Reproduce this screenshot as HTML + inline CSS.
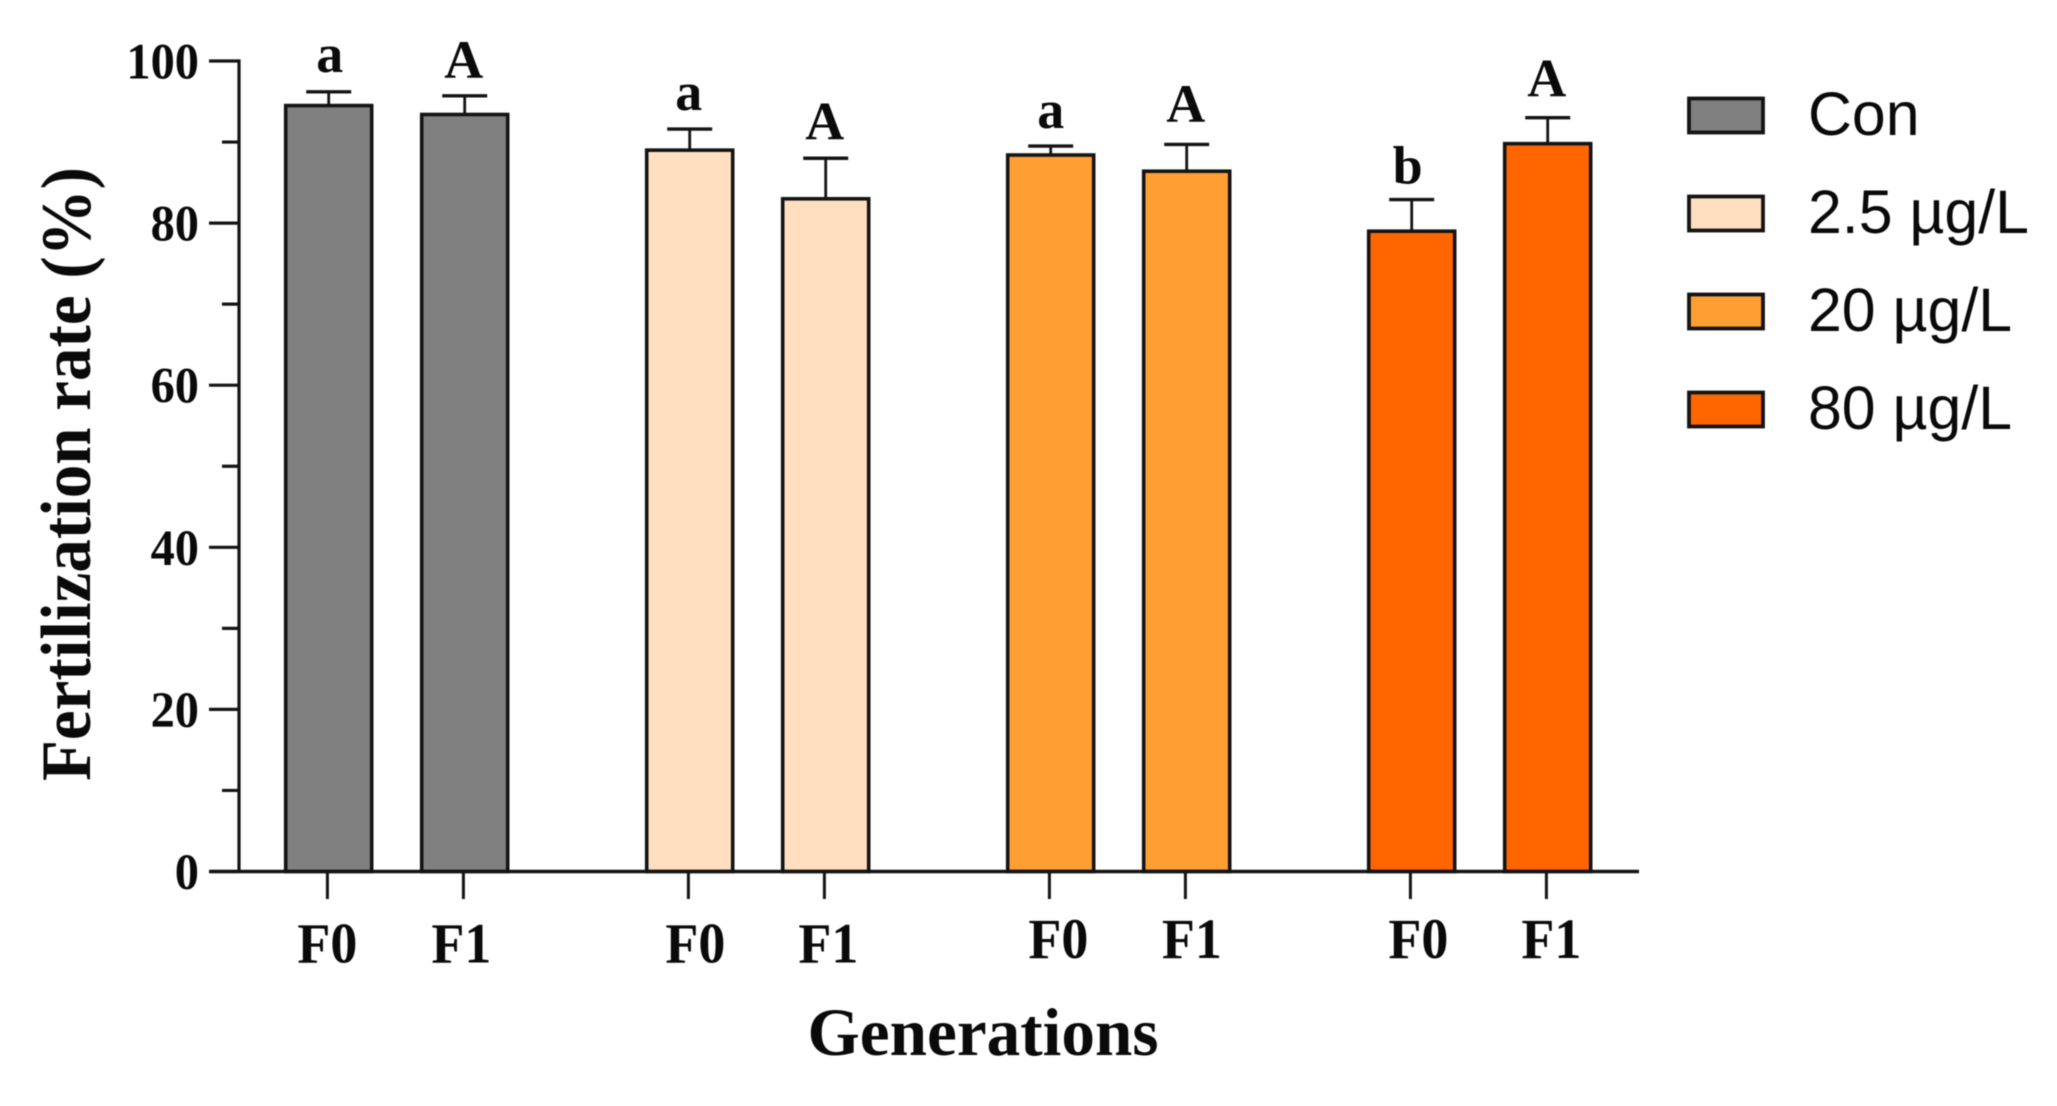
<!DOCTYPE html>
<html lang="en">
<head>
<meta charset="utf-8">
<title>Fertilization rate by generation</title>
<style>
  html, body { margin: 0; padding: 0; background: #fff; }
  svg { display: block; filter: blur(0.6px); }
  text { fill: #0a0a0a; }
  .serif { font-family: "Liberation Serif", serif; font-weight: 700; }
  .sans { font-family: "Liberation Sans", sans-serif; font-weight: 400; }
</style>
</head>
<body>
<svg id="chart" xmlns="http://www.w3.org/2000/svg" width="2057" height="1106" viewBox="0 0 2057 1106">
  <rect x="0" y="0" width="2057" height="1106" fill="#ffffff"/>
  <g id="bars"></g>
  <g id="y-axis"></g>
  <g id="x-axis"></g>
  <g id="letters"></g>
  <g id="legend"></g>
  <text class="serif" transform="translate(90 474) rotate(-90)" text-anchor="middle" font-size="71" textLength="614" lengthAdjust="spacingAndGlyphs">Fertilization rate (%)</text>
  <text class="serif" x="983" y="1055" text-anchor="middle" font-size="68" textLength="351" lengthAdjust="spacingAndGlyphs">Generations</text>
</svg>
<script>
// Chart data
const groupNames = ['Con', '2.5 µg/L', '20 µg/L', '80 µg/L'];
const generations = ['F0', 'F1'];
const meanValues = [
  [94.5, 93.4],
  [89.0, 83.0],
  [88.4, 86.4],
  [79.0, 89.8]
];
const errorValues = [
  [1.7, 2.3],
  [2.6, 5.0],
  [1.1, 3.3],
  [3.9, 3.2]
];
const letterLabels = [
  ['a', 'A'],
  ['a', 'A'],
  ['a', 'A'],
  ['b', 'A']
];
const majorTicks = [0, 20, 40, 60, 80, 100];
const minorTicks = [10, 30, 50, 70, 90];
const groupColors = ['#808080', '#FFDFBF', '#FF9F33', '#FF6600'];

// Layout and scales
const NS = 'http://www.w3.org/2000/svg';
const INK = '#141414';
const yScale = v => 871.5 - v * 8.105;
const barCenter = (g, i) => 328.7 + g * 361 + i * 136;
const tickCenter = (g, i) => barCenter(g, i) - 1.3;
const labelShift = (g, i) => [[0, -2], [7, 4], [9, 6.5], [8, 5]][g][i];
const labelBaseline = g => (g < 2 ? 962.7 : 958);
const letterLift = (g, i) => [[20, 18], [19, 19], [18, 22.6], [16, 21]][g][i];
const letterShift = (g, i) => [[0, -2], [-2, -2], [-1, -2], [-5, -2]][g][i];

function make(tag, parent, attrs) {
  const el = document.createElementNS(NS, tag);
  for (const k in attrs) el.setAttribute(k, attrs[k]);
  parent.appendChild(el);
  return el;
}

const barsG = document.getElementById('bars');
const yG = document.getElementById('y-axis');
const xG = document.getElementById('x-axis');
const lettersG = document.getElementById('letters');
const legendG = document.getElementById('legend');

// Bars and error bars
groupNames.forEach((name, g) => {
  generations.forEach((gen, i) => {
    const cx = barCenter(g, i);
    const top = yScale(meanValues[g][i]);
    const up = yScale(meanValues[g][i] + errorValues[g][i]);

    const stem = make('line', barsG, { x1: cx, x2: cx, y1: top, y2: up, stroke: INK, 'stroke-width': 2.8 });
    
    

    const cap = make('line', barsG, { x1: cx - 22.5, x2: cx + 22.5, y1: up, y2: up, stroke: INK, 'stroke-width': 3.4 });
    
    

    const bar = make('rect', barsG, { x: cx - 43, y: top, width: 86, height: yScale(0) - top, fill: groupColors[g], stroke: INK, 'stroke-width': 3.6 });
    
    

    const letter = make('text', lettersG, { x: cx + 1 + letterShift(g, i), y: up - letterLift(g, i), 'text-anchor': 'middle', 'font-size': 54, class: 'serif' });
    letter.textContent = letterLabels[g][i];
    
    

    const tick = make('line', xG, { x1: tickCenter(g, i), x2: tickCenter(g, i), y1: yScale(0), y2: 899, stroke: INK, 'stroke-width': 3 });
    
    

    const label = make('text', xG, { x: tickCenter(g, i) + labelShift(g, i), y: labelBaseline(g), 'text-anchor': 'middle', 'font-size': 57, textLength: 60, lengthAdjust: 'spacingAndGlyphs', class: 'serif' });
    label.textContent = gen;
    
    
  });
});

// Y axis
const yLine = make('line', yG, { x1: 239, x2: 239, y1: yScale(100) - 1.6, y2: yScale(0), stroke: INK, 'stroke-width': 3.2 });



const xLine = make('line', xG, { x1: 209.5, x2: 1639, y1: yScale(0), y2: yScale(0), stroke: INK, 'stroke-width': 3.6 });



majorTicks.forEach(v => {
  const t = make('line', yG, { x1: 209, x2: 239, y1: yScale(v), y2: yScale(v), stroke: INK, 'stroke-width': 3.2 });
  
  

  const s = String(v);
  const lab = make('text', yG, { x: 199, y: yScale(v) + 17.5, 'text-anchor': 'end', 'font-size': 51, textLength: s.length * 24.2, lengthAdjust: 'spacingAndGlyphs', class: 'serif' });
  lab.textContent = s;
  
  
});

minorTicks.forEach(v => {
  const t = make('line', yG, { x1: 222, x2: 239, y1: yScale(v), y2: yScale(v), stroke: INK, 'stroke-width': 3.2 });
  
  
});

// Legend
groupNames.forEach((name, g) => {
  const sw = make('rect', legendG, { x: 1689, y: 98.5 + g * 98, width: 74, height: 34, fill: groupColors[g], stroke: INK, 'stroke-width': 3.8 });
  
  

  const txt = make('text', legendG, { x: 1808, y: 135 + g * 98, 'font-size': 60.8, class: 'sans' });
  txt.textContent = name;
  
  
});
</script>
</body>
</html>
